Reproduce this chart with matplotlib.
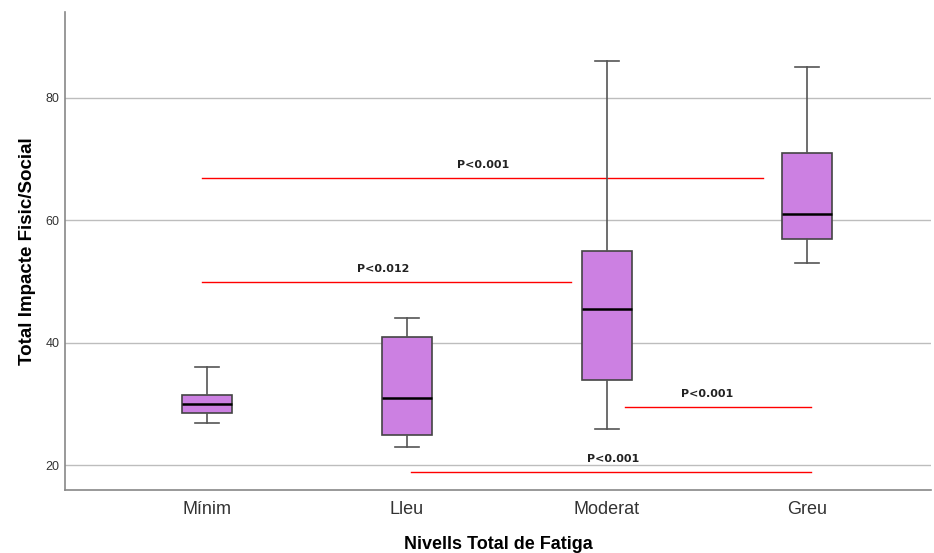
import matplotlib
matplotlib.use("Agg")
import matplotlib.pyplot as plt

plt.rcParams['font.family'] = ['Liberation Sans', 'DejaVu Sans']

# box summary per fatigue level
categories = ['Mínim', 'Lleu', 'Moderat', 'Greu']
whisker_low = [27, 23, 26, 53]
q1 = [28.5, 25, 34, 57]
median = [30, 31, 45.5, 61]
q3 = [31.5, 41, 55, 71]
whisker_high = [36, 44, 86, 85]

# significance lines: y value, x start, x end, label x, label
sig_y = [67, 50, 29.6, 19]
sig_x0 = [-0.025, -0.025, 2.09, 1.02]
sig_x1 = [2.78, 1.82, 3.02, 3.02]
sig_text_x = [1.38, 0.88, 2.5, 2.03]
sig_labels = ['P<0.001', 'P<0.012', 'P<0.001', 'P<0.001']

stats = []
for i, name in enumerate(categories):
    stats.append({'label': name, 'whislo': whisker_low[i], 'q1': q1[i],
                  'med': median[i], 'q3': q3[i], 'whishi': whisker_high[i],
                  'fliers': []})

fig = plt.figure(figsize=(9.34, 5.53), dpi=100)
ax = fig.add_axes([0.0696, 0.114, 0.927, 0.864])

ax.bxp(stats, positions=range(len(categories)), widths=0.25, patch_artist=True,
       boxprops=dict(facecolor='#cc80e2', edgecolor='#444444', linewidth=1.2),
       medianprops=dict(color='black', linewidth=1.8),
       whiskerprops=dict(color='#555555', linewidth=1.2),
       capprops=dict(color='#555555', linewidth=1.2),
       capwidths=0.12, zorder=3)

for y, x0, x1, tx, lab in zip(sig_y, sig_x0, sig_x1, sig_text_x, sig_labels):
    ax.plot([x0, x1], [y, y], color='red', linewidth=1.0, zorder=2)
    ax.text(tx, y + 1.2, lab, ha='center', va='bottom', fontsize=8,
            fontweight='bold', color='#222222', family=['DejaVu Sans'])

ax.set_xlim(-0.71, 3.62)
ax.set_ylim(16, 94)
ax.set_yticks([20, 40, 60, 80])
ax.yaxis.grid(True, color='#bdbdbd', linewidth=1.0, zorder=0)
ax.set_axisbelow(True)
ax.tick_params(axis='both', length=0)
ax.tick_params(axis='x', labelsize=13, labelcolor='#333333', pad=8)
ax.tick_params(axis='y', labelsize=9, labelcolor='#333333', pad=4)
for s in ['top', 'right']:
    ax.spines[s].set_visible(False)
for s in ['left', 'bottom']:
    ax.spines[s].set_color('#888888')
    ax.spines[s].set_linewidth(1.2)

ax.set_xlabel('Nivells Total de Fatiga', fontsize=13, fontweight='bold', labelpad=13)
ax.set_ylabel('Total Impacte Fisic/Social', fontsize=13.5, fontweight='bold', labelpad=7)

fig.savefig('out.png', dpi=100)
